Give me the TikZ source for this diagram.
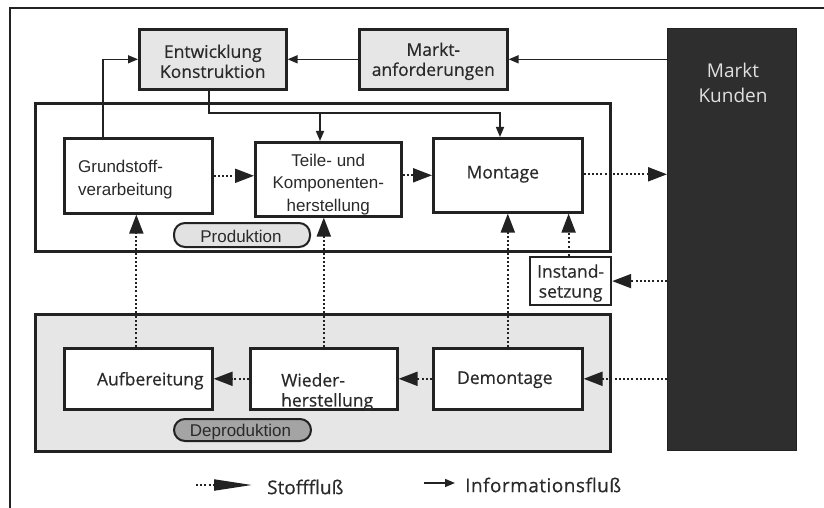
\documentclass[tikz,border=0pt]{standalone}
\usepackage{fontspec}
\setmainfont{Open Sans}[BoldFont={Open Sans},BoldFeatures={FakeBold=0.5}]
\newfontfamily\arialfont{Liberation Sans}
\usetikzlibrary{arrows.meta,calc}

\definecolor{ink}{HTML}{222222}
\definecolor{txt}{HTML}{2A2A2A}
\definecolor{lightfill}{HTML}{E6E6E6}
\definecolor{pillfill}{HTML}{E2E2E2}
\definecolor{darkpill}{HTML}{A4A4A4}
\definecolor{market}{HTML}{2E2E2E}

\tikzset{
  box/.style={draw=ink, line width=2.6pt, fill=white, inner sep=0pt, anchor=north west, text=txt},
  graybox/.style={box, fill=lightfill},
  area/.style={draw=ink, line width=2.6pt, inner sep=0pt, anchor=north west},
  pill/.style={draw=ink, line width=2pt, rounded corners=11pt, inner sep=0pt, anchor=north west, text=txt},
  label/.style={text=txt, inner sep=0pt, font=\bfseries\fontsize{17.5}{20}\selectfont},
  arlabel/.style={text=txt, inner sep=0pt, font=\arialfont\fontsize{17}{22.5}\selectfont},
  flow/.style={draw=ink, line width=2pt, dash pattern=on 2pt off 2.2pt,
    -{Triangle[length=19pt,width=14pt,fill=ink]}},
  info/.style={draw=ink, line width=1.5pt, -{Triangle[length=10pt,width=8pt,fill=ink]}},
}

\begin{document}
\begin{tikzpicture}[x=1pt,y=-1pt]
\useasboundingbox (0,0) rectangle (824,508);

% open frame: top and left edges
\draw[ink, line width=2pt] (10,509) -- (10,8) -- (825,8);

% market block
\node[draw=ink, line width=1pt, fill=market, anchor=north west, inner sep=0pt,
      minimum width=129pt, minimum height=422pt] (kunden) at (667,28) {};
\node[align=center, text=white!88!black, inner sep=0pt,
      font=\fontsize{19}{25}\selectfont, anchor=north] (kundentext) at (733,63) {Markt\\Kunden};

% production area
\node[area, fill=white, minimum width=575pt, minimum height=148pt] (prodarea) at (34,102) {};
% deproduction area
\node[area, fill=lightfill, minimum width=575pt, minimum height=137pt] (deparea) at (34,313) {};

% development boxes
\node[graybox, minimum width=147pt, minimum height=60pt] (entw) at (138,28) {};
\node[label, align=center] at ($(entw.center)+(0,2)$) {Entwicklung\\Konstruktion};
\node[graybox, minimum width=148pt, minimum height=60pt] (markt) at (358,28) {};
\node[label, align=center] at ($(markt.center)+(0,2)$) {Markt-\\anforderungen};

% production stages
\node[box, minimum width=148pt, minimum height=75pt] (grund) at (63,137) {};
\node[arlabel, align=left, anchor=west] at ($(grund.west)+(15,4)$) {Grundstoff-\\verarbeitung};
\node[box, minimum width=146pt, minimum height=74pt] (teile) at (254,141) {};
\node[arlabel, align=center] at ($(teile.center)+(0,5)$) {Teile- und\\Komponenten-\\herstellung};
\node[box, minimum width=149pt, minimum height=74pt] (mont) at (432,137) {};
\node[label] at ($(mont.center)+(-5,-1)$) {Montage};

\node[pill, fill=pillfill, minimum width=136pt, minimum height=24pt] (prodpill) at (173,222) {};
\node[arlabel] at ($(prodpill.center)+(-1,1)$) {Produktion};

% repair
\node[box, line width=2.2pt, minimum width=81pt, minimum height=48pt] (inst) at (529,256) {};
\node[label, align=center] at ($(inst.center)+(0,2)$) {Instand-\\setzung};

% deproduction stages
\node[box, minimum width=148pt, minimum height=61pt] (aufb) at (63,347) {};
\node[label] at ($(aufb.center)+(12,2)$) {Aufbereitung};
\node[box, minimum width=147pt, minimum height=61pt] (wied) at (249,347) {};
\node[label, align=left, anchor=north west] at (281,373) {Wieder-\\herstellung};
\node[box, minimum width=149pt, minimum height=61pt] (demo) at (432,347) {};
\node[label] at ($(demo.center)+(-3,1)$) {Demontage};

\node[pill, fill=darkpill, minimum width=137pt, minimum height=22pt] (deppill) at (173,418) {};
\node[arlabel] at ($(deppill.center)+(-2,2)$) {Deproduktion};

% information flow
\draw[info] ([xshift=40pt]grund.north west) |- (entw.west);
\draw[info] (markt.east -| kunden.west) -- (markt.east);
\draw[info] (markt.west) -- (entw.east);
\coordinate (bus) at (500,113);
\coordinate (tap) at (320,113);
\draw[info] ([xshift=-4pt]entw.south) |- (bus) -- (bus |- mont.north);
\draw[info] (tap) -- (tap |- teile.north);

% material flow
\draw[flow] (grund.east) -- (grund.east -| teile.west);
\draw[flow] (mont.west -| teile.east) -- (mont.west);
\draw[flow] ([yshift=1pt]mont.east) -- ([yshift=1pt]mont.east -| kunden.west);
\draw[flow] (inst.east -| kunden.west) -- (inst.east);
\draw[flow] (demo.east -| kunden.west) -- (demo.east);
\draw[flow] (demo.west) -- (wied.east);
\draw[flow] (wied.west) -- (aufb.east);
\draw[flow] ([xshift=-2pt]aufb.north) -- ([xshift=-2pt]aufb.north |- grund.south);
\draw[flow] (wied.north) -- (wied.north |- teile.south);
\draw[flow] (demo.north) -- (demo.north |- mont.south);
\draw[flow] ([xshift=-2pt]inst.north) -- ([xshift=-2pt]inst.north |- mont.south);

% legend
\node[label, anchor=west, font=\bfseries\fontsize{19}{22}\selectfont] (lstoff) at (267,487) {Stofffluß};
\node[label, anchor=west, font=\bfseries\fontsize{19}{22}\selectfont\addfontfeature{LetterSpace=2.5}] (linfo) at (465,485) {Informationsfluß};
\coordinate (ls) at (196,485);
\coordinate (li) at (424,483);
\draw[flow, -{Triangle[length=38pt,width=11pt,fill=ink]}] (ls) -- ([xshift=-15pt]ls -| lstoff.west);
\draw[info] (li) -- ([xshift=-10pt]li -| linfo.west);
\end{tikzpicture}
\end{document}
